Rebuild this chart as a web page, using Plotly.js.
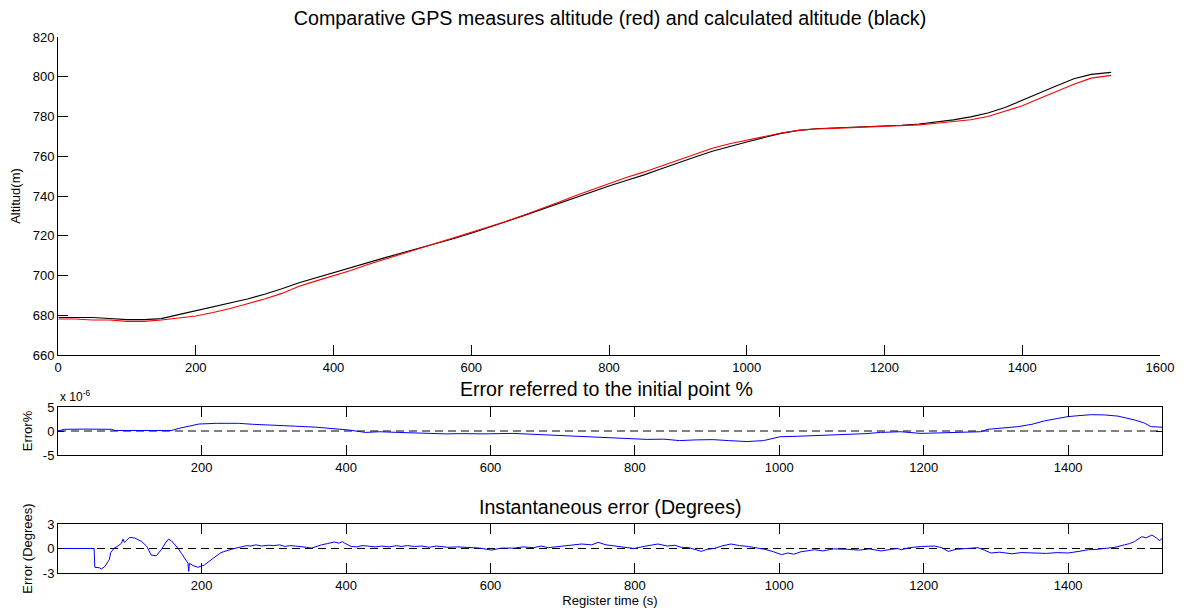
<!DOCTYPE html>
<html>
<head>
<meta charset="utf-8">
<script src="https://cdn.plot.ly/plotly-3.0.1.min.js"></script>
<style>html,body{margin:0;padding:0;background:#fff;}#chart{width:1184px;height:613px;}</style>
</head>
<body>
<div id="chart"></div>
<script>
// ---- Data ----
const altT = [1,25,50,75,100,125,150,175,200,225,
  250,275,300,325,350,375,400,425,450,475,
  500,525,550,575,600,625,650,675,700,725,
  750,775,800,825,850,875,900,925,950,975,
  1000,1025,1050,1075,1100,1125,1150,1175,1200,1225,
  1250,1275,1300,1325,1350,1375,1400,1425,1450,1475,
  1500,1525,1529];
const calcAlt = [678.9,678.9,678.9,678.4,677.8,677.8,678.3,680.3,682.2,684.1,
  686,688.2,690.6,693.3,696.4,699,701.6,704,706.6,709,
  711.4,713.8,716.1,718.6,721.3,724,727,730,733,736.2,
  739.2,742,745,747.8,750.5,753.6,756.8,759.6,762.5,765,
  767.2,769.4,771.5,773,773.8,774.2,774.5,774.8,775.2,775.6,
  776.2,777.2,778.3,779.8,781.8,784.5,788,791.8,795.5,799,
  801.2,802.3,802.2];
const gpsAlt = [678.1,678.1,677.6,677.6,676.9,676.9,677.6,678.5,679.6,681.4,
  683.4,685.8,688.2,691,694.6,697.3,699.9,702.5,705.5,708.2,
  710.9,713.5,716.1,718.8,721.5,724.3,727.2,730.2,733.3,736.6,
  740,743.2,746.4,749.3,752,755.1,758.2,761.3,764,766.3,
  768.2,770,771.7,773,773.7,774,774.3,774.6,774.9,775.2,
  775.8,776.6,777.4,778.4,780,782.6,785.4,789,792.7,796.2,
  799.3,800.8,800.7];

// Error referred to the initial point (units of 1e-6 %)
const errT = [1,10,40,75,80,120,158,170,185,196,
  220,251,270,302,330,358,380,404,427,446,
  473,500,539,560,590,631,660,690,724,760,
  790,817,840,862,885,908,930,955,978,1001,
  1025,1048,1070,1094,1120,1140,1168,1196,1230,1260,
  1279,1289,1310,1330,1350,1367,1385,1400,1415,1432,
  1450,1469,1492,1505,1515,1522,1530];
const errV = [0,0.35,0.4,0.35,0.1,0.1,0.1,0.6,1.1,1.45,
  1.6,1.6,1.4,1.25,1.0,0.8,0.5,0.2,-0.3,-0.15,
  -0.3,-0.45,-0.6,-0.55,-0.6,-0.5,-0.7,-0.9,-1.2,-1.4,
  -1.55,-1.75,-1.7,-2.0,-1.85,-1.8,-2.0,-2.2,-2.0,-1.2,
  -1.1,-1.0,-0.85,-0.7,-0.55,-0.3,-0.15,-0.5,-0.3,-0.2,
  -0.15,0.35,0.6,0.9,1.4,2.1,2.6,3.0,3.2,3.4,
  3.35,3.1,2.3,1.7,0.9,0.8,0.8];

// Instantaneous error (degrees)
const degT = [1,51,52,58,61,66,71,72,74,79,
  84,89,91,93,96,100,107,112,117,124,
  130,137,144,150,154,158,162,167,172,176,
  181,182,183,188,195,204,210,218,225,230,
  237,245,255,262,268,275,283,292,300,308,
  315,322,330,338,345,352,360,366,374,384,
  390,395,398,403,407,415,422,430,440,449,
  460,470,476,485,495,505,515,525,541,555,
  570,585,601,615,633,645,660,670,680,695,
  710,726,740,749,760,772,785,799,815,832,
  845,855,864,875,892,900,910,920,933,945,
  957,970,980,992,1003,1012,1020,1030,1049,1060,
  1075,1095,1110,1125,1141,1155,1164,1169,1180,1197,
  1215,1225,1234,1245,1262,1275,1284,1293,1305,1322,
  1335,1354,1370,1385,1400,1415,1428,1440,1456,1465,
  1478,1485,1492,1502,1508,1516,1522,1527,1530];
const degV = [0,0,-2.3,-2.35,-2.5,-2.2,-1.5,-1.4,-0.5,0.05,
  0.3,0.65,1.15,0.75,1.0,1.35,1.3,1.1,0.85,0.25,
  -0.8,-0.9,-0.15,0.7,1.15,0.95,0.6,0.05,-0.6,-1.2,
  -1.8,-2.8,-1.8,-2.1,-2.3,-2.0,-1.6,-1.0,-0.6,-0.4,
  -0.2,0,0.2,0.35,0.3,0.45,0.3,0.4,0.35,0.45,
  0.25,0.35,0.3,0.25,0.15,0.05,0.3,0.45,0.6,0.8,
  0.65,0.85,0.65,0.4,0.25,0.2,0.35,0.3,0.2,0.3,
  0.2,0.35,0.25,0.35,0.25,0.3,0.15,0.3,0.15,0.2,
  0.1,0.05,-0.2,0.05,0.05,0.2,0.1,0.3,0.1,0.25,
  0.35,0.55,0.45,0.75,0.45,0.3,0.15,0,0.3,0.55,
  0.3,0.4,0.15,0.1,-0.35,-0.1,0,0.3,0.55,0.35,
  0.25,0.1,-0.1,-0.4,-0.75,-0.55,-0.7,-0.4,-0.15,-0.3,
  -0.05,-0.1,-0.2,-0.05,-0.3,-0.1,0,-0.15,0.1,0.25,
  0.3,0.1,-0.35,-0.1,0.05,0.1,-0.2,-0.55,-0.45,-0.65,
  -0.5,-0.55,-0.6,-0.5,-0.55,-0.35,-0.15,-0.1,0.05,0.15,
  0.45,0.6,0.85,1.45,1.3,1.65,1.3,0.95,1.25];

const zeroT = [1, 1530];
const zeroV = [0, 0];

const topTicks = [0,200,400,600,800,1000,1200,1400,1600];
const subTicks = [200,400,600,800,1000,1200,1400];

// ---- Plot ----
const FONT = 'Liberation Sans, Arial, Helvetica, sans-serif';
const traces = [
  {x: altT, y: calcAlt, xaxis:'x', yaxis:'y', mode:'lines', line:{color:'#000000', width:1.1}},
  {x: altT, y: gpsAlt, xaxis:'x', yaxis:'y', mode:'lines', line:{color:'#ff0000', width:1.1}},
  {x: zeroT, y: zeroV, xaxis:'x2', yaxis:'y2', mode:'lines', line:{color:'#000000', width:1, dash:'8px,5px'}},
  {x: errT, y: errV, xaxis:'x2', yaxis:'y2', mode:'lines', line:{color:'#0000ff', width:1}},
  {x: zeroT, y: zeroV, xaxis:'x3', yaxis:'y3', mode:'lines', line:{color:'#000000', width:1, dash:'8px,5px'}},
  {x: degT, y: degV, xaxis:'x3', yaxis:'y3', mode:'lines', line:{color:'#0000ff', width:1}}
];

const axBase = {
  showgrid:false, zeroline:false, showline:true, linecolor:'#000', linewidth:1,
  ticks:'inside', ticklen:10, tickcolor:'#000', tickwidth:1,
  tickfont:{family:FONT, size:13, color:'#000'}, automargin:false
};
function ax(extra){ return Object.assign({}, axBase, extra); }

const PH = 613, PTOP = 37, PBOT = 573, PLOTH = PBOT - PTOP;
function fy(p){ return (PBOT - p) / PLOTH; }

const layout = {
  width:1184, height:613,
  margin:{l:58, r:22, t:37, b:40, pad:0},
  paper_bgcolor:'#fff', plot_bgcolor:'#fff',
  showlegend:false, hovermode:false,
  font:{family:FONT, size:13, color:'#000'},
  title:{text:'Comparative GPS measures altitude (red) and calculated altitude (black)',
    font:{family:FONT, size:19.7, color:'#000'}, xref:'paper', x:0.5, xanchor:'center',
    yref:'container', y:1-18/PH, yanchor:'middle'},
  xaxis: ax({domain:[0, 1102/1104], range:[0,1600], tickvals:topTicks, anchor:'y', mirror:false}),
  yaxis: ax({domain:[fy(355), 1], range:[660,820], dtick:20, tick0:660, anchor:'x', mirror:false,
    title:{text:'Altitud(m)', font:{family:FONT, size:13, color:'#000'}, standoff:9}}),
  xaxis2: ax({domain:[0,1], range:[1,1530], tickvals:subTicks, anchor:'y2', mirror:'ticks'}),
  yaxis2: ax({domain:[fy(455), fy(407)], range:[-5,5], tickvals:[-5,0,5], ticktext:['-5','0','5'],
    anchor:'x2', mirror:'ticks', ticklen:6,
    title:{text:'Error%', font:{family:FONT, size:13, color:'#000'}, standoff:7}}),
  xaxis3: ax({domain:[0,1], range:[1,1530], tickvals:subTicks, anchor:'y3', mirror:'ticks',
    title:{text:'Register time (s)', font:{family:FONT, size:13, color:'#000'}, standoff:2}}),
  yaxis3: ax({domain:[0, fy(524)], range:[-3,3], tickvals:[-3,0,3], ticktext:['-3','0','3'],
    anchor:'x3', mirror:'ticks', ticklen:6,
    title:{text:'Error (Degrees)', font:{family:FONT, size:13, color:'#000'}, standoff:7}}),
  annotations:[
    {text:'Error referred to the initial point %', xref:'paper', yref:'paper', x:0.497, y:fy(389),
     xanchor:'center', yanchor:'middle', showarrow:false, font:{family:FONT, size:19.6, color:'#000'}},
    {text:'Instantaneous error (Degrees)', xref:'paper', yref:'paper', x:0.5, y:fy(507),
     xanchor:'center', yanchor:'middle', showarrow:false, font:{family:FONT, size:19.6, color:'#000'}},
    {text:'x 10<sup>-6</sup>', xref:'paper', yref:'paper', x:0, y:fy(396),
     xanchor:'left', yanchor:'middle', showarrow:false, font:{family:FONT, size:12, color:'#000'}}
  ]
};

Plotly.newPlot('chart', traces, layout, {displayModeBar:false, staticPlot:true});
</script>
</body>
</html>
